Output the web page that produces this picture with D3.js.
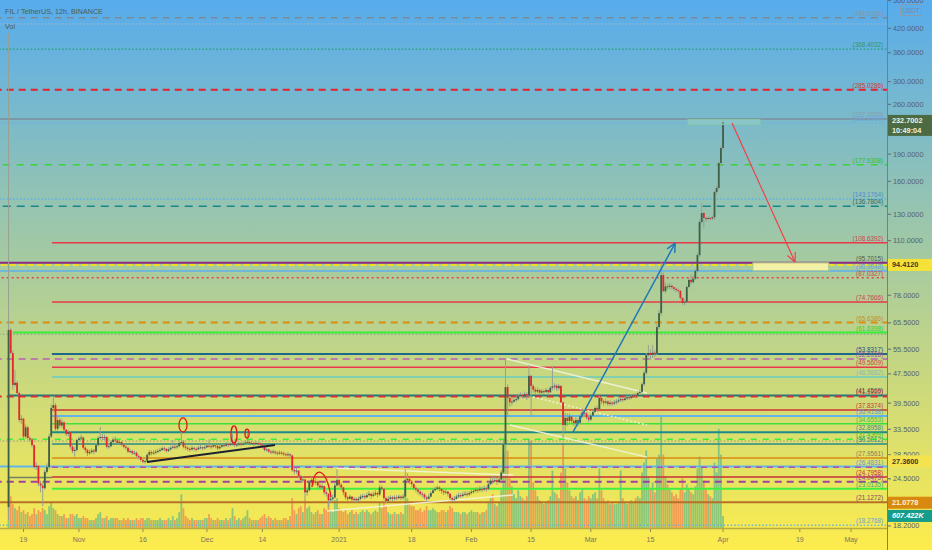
<!DOCTYPE html>
<html><head><meta charset="utf-8">
<script src="https://cdn.jsdelivr.net/npm/d3@7"></script>
<style>
body{margin:0;overflow:hidden;background:#fff}
svg{display:block}
text{font-family:"Liberation Sans",Arial,sans-serif}
</style>
</head><body>
<svg id="c" width="932" height="550"></svg>
<script>
// ---------------- DATA ----------------
const title = "FIL / TetherUS, 12h, BINANCE";
const firstCandle = "2020-10-15T12:00:00Z";
const firstOpen = 20.5;
const closes = [62.7,54.2,44.3,44.9,42.1,35.5,35.8,32.0,33.9,31.7,31.4,30.3,26.4,26.6,23.8,23.5,23.1,25.6,26.4,32.0,
38.3,39.0,33.6,35.5,34.3,35.0,33.4,32.5,32.9,30.0,29.2,29.4,31.3,31.6,31.8,29.8,29.4,28.8,29.0,29.3,
29.1,30.3,31.7,31.9,31.7,31.9,30.0,30.1,30.9,31.4,31.2,30.7,30.9,30.4,30.0,29.8,29.1,29.2,28.8,28.9,
28.3,28.1,27.6,27.3,27.4,28.5,29.0,28.8,28.9,29.1,29.2,29.4,29.7,29.6,29.2,29.5,29.8,30.0,29.9,30.1,
30.7,30.9,30.0,29.8,29.6,29.5,29.8,29.6,29.5,29.8,29.9,29.7,29.9,30.2,30.1,30.0,30.3,30.1,29.7,30.0,
30.3,30.2,30.5,30.3,30.5,30.6,30.3,30.4,30.6,30.4,30.6,30.8,30.9,30.6,30.7,30.5,30.7,30.6,30.4,30.0,
29.4,29.5,29.1,29.0,29.1,28.9,28.8,28.9,28.8,28.6,28.5,28.6,28.4,25.9,25.7,25.8,24.9,24.3,24.4,22.5,
22.8,24.0,24.3,23.9,24.1,23.5,23.2,23.4,22.5,22.3,21.4,21.6,21.8,23.5,24.3,23.6,23.2,22.5,21.8,21.6,
21.9,21.5,21.6,21.4,21.6,21.9,22.0,21.8,22.1,22.3,22.0,22.2,22.4,22.2,23.2,23.0,21.7,21.3,21.6,21.8,
21.6,21.8,21.7,21.9,21.7,21.9,24.3,24.5,24.1,23.7,23.1,22.9,22.6,22.3,22.2,21.8,21.6,21.9,22.4,22.8,
23.0,23.2,23.0,22.7,22.5,22.6,22.3,21.7,21.5,21.6,21.9,22.1,22.0,22.2,22.3,22.2,22.4,22.6,22.7,22.9,
22.8,23.0,22.9,23.1,23.0,23.7,24.2,24.1,24.3,24.0,24.4,25.5,30.5,43.7,40.8,39.7,39.9,40.3,40.5,41.3,
41.6,41.2,41.8,41.5,46.9,44.0,43.0,42.5,42.9,42.2,42.6,42.4,42.9,42.3,43.5,43.9,44.1,43.4,44.0,39.7,
34.4,36.0,35.3,36.3,35.3,34.8,35.5,34.9,36.4,37.2,37.0,36.1,35.6,36.5,37.4,38.3,38.0,40.8,40.0,39.6,
39.9,39.3,39.6,39.4,39.7,39.9,40.2,40.5,40.3,40.7,41.0,40.8,41.2,41.5,41.4,42.1,42.4,44.5,47.8,53.5,
54.2,53.6,54.3,54.0,63.8,69.7,88.6,80.0,82.5,82.2,82.8,82.0,81.2,80.6,80.2,76.7,74.3,74.8,82.2,85.9,
84.7,86.5,90.9,100.5,123.8,131.0,127.0,126.2,127.0,126.5,127.5,149.6,153.4,179.6,197.4,232.7];
const highs = [408,63.5,55,48.7,45.5,42.5,36.6,36,34.5,34.2,32.1,31.6,30.5,27.2,26.7,24.2,23.9,26.0,27.0,32.6,
39.2,41.2,39.5,36.3,36.0,35.8,35.2,33.6,33.4,33.1,30.3,29.9,31.6,32.0,32.4,32.0,30.1,29.6,29.5,29.7,
29.6,30.6,32.1,34.0,32.5,32.4,32.1,30.6,31.3,31.8,32.0,31.5,31.3,31.1,30.6,30.3,30.0,29.6,29.4,29.3,
29.1,28.6,28.3,27.8,27.7,28.8,29.4,29.3,29.4,29.5,29.6,29.8,30.0,30.1,29.8,29.9,30.2,31.3,30.4,30.6,
31.2,33.1,31.3,30.3,30.1,29.9,30.2,30.0,29.9,30.2,30.3,30.1,30.3,30.6,31.5,30.5,30.7,30.6,30.4,30.3,
30.7,30.6,30.9,30.8,30.9,32.5,30.9,30.8,31.0,30.9,31.0,31.3,32.7,31.2,31.1,31.0,31.1,31.0,30.9,30.6,
30.2,29.9,29.7,29.4,29.5,29.3,29.2,29.3,29.2,29.1,28.9,29.0,28.8,28.6,26.2,26.3,25.9,25.1,24.9,24.5,
23.2,24.3,24.8,24.5,24.6,24.2,23.8,23.8,23.5,22.8,22.4,22.0,22.2,23.9,26.0,24.5,23.9,23.3,22.6,22.0,
22.2,22.0,21.9,21.8,21.9,22.2,22.3,22.2,22.5,22.7,22.4,22.6,22.8,22.6,23.6,23.5,23.1,21.9,22.0,22.1,
22.0,22.1,22.1,22.2,22.1,22.3,26.0,25.4,24.8,24.3,23.8,23.4,23.1,22.8,22.6,22.4,22.0,22.3,22.7,23.1,
23.3,23.5,23.4,23.1,22.9,23.0,22.7,22.4,21.9,22.0,22.2,22.5,22.4,22.6,22.7,22.6,22.7,23.0,23.1,23.2,
23.2,23.4,23.3,23.5,23.4,24.1,24.6,25.0,24.8,24.7,24.9,25.9,31.5,52.2,44.5,41.2,40.8,41.0,41.3,41.9,
42.3,42.0,42.5,42.3,50.2,47.3,44.5,43.6,43.6,43.2,43.2,43.1,43.5,43.1,44.0,49.6,44.8,44.5,44.6,44.3,
39.8,37.2,37.0,37.0,36.5,35.8,36.2,35.9,36.9,38.2,37.8,37.3,36.6,37.0,37.9,38.8,38.9,41.4,41.3,40.4,
40.6,40.2,40.2,40.0,40.3,40.5,40.8,41.0,40.9,41.2,41.5,41.4,41.7,42.0,42.0,42.6,43.0,45.0,48.5,54.2,
57.0,55.5,57.0,55.2,64.8,71.0,96.2,90.0,84.5,84.0,84.3,83.5,82.7,82.0,81.5,80.5,77.0,76.0,83.0,86.8,
89.0,88.5,92.0,102.0,126.0,139.6,132.0,128.0,128.5,128.0,129.0,151.0,156.0,182.0,200.0,237.0];
const lows = [18.9,53.8,43,43.8,41.5,35,34.6,31.5,31.6,31.3,30.9,29.9,26.1,25.9,23.4,22.5,20.6,22.9,25.3,26.0,
31.7,37.5,33.0,33.2,33.8,33.7,33.0,32.1,32.0,29.6,28.8,28.2,29.1,30.9,31.2,29.5,28.9,28.3,28.5,28.7,
28.6,28.9,30.1,31.3,31.2,31.3,29.7,29.6,29.9,30.7,30.8,30.4,30.5,30.1,29.7,29.4,28.8,28.8,28.5,28.5,
28.0,27.7,27.3,27.0,27.0,27.2,28.2,28.4,28.5,28.6,28.8,29.0,29.2,29.2,28.9,29.0,29.3,29.6,29.5,29.6,
29.9,30.4,29.7,29.4,29.2,29.1,29.3,29.2,29.1,29.4,29.5,29.3,29.5,29.7,29.8,29.6,29.8,29.7,29.4,29.5,
29.8,29.9,30.0,29.9,30.1,30.2,29.9,30.0,30.1,30.1,30.2,30.3,30.4,30.3,30.3,30.1,30.3,30.2,30.0,29.7,
29.1,29.1,28.8,28.6,28.7,28.5,28.4,28.5,28.4,28.3,28.2,28.2,28.0,25.6,25.2,25.3,24.6,24.0,23.9,21.4,
22.0,22.6,23.8,23.5,23.6,23.1,22.9,22.9,22.2,21.9,20.5,21.1,21.3,21.6,23.3,23.2,22.8,22.1,21.5,21.3,
21.5,21.2,21.2,21.1,21.2,21.4,21.6,21.5,21.7,21.9,21.6,21.8,22.0,21.8,22.0,22.7,21.4,21.0,21.2,21.4,
21.3,21.4,21.4,21.5,21.4,21.5,21.7,23.9,23.7,23.3,22.8,22.5,22.2,22.0,21.8,21.5,21.2,21.5,21.8,22.3,
22.6,22.8,22.6,22.3,22.1,22.2,21.9,21.4,21.2,21.2,21.5,21.7,21.7,21.8,22.0,21.9,22.0,22.2,22.3,22.5,
22.4,22.6,22.5,22.7,22.6,22.8,23.5,23.7,23.9,23.6,23.9,24.2,25.3,30.2,36.2,38.6,38.9,39.5,39.8,40.2,
40.9,40.6,41.0,40.3,41.0,36.2,42.2,41.8,42.1,41.6,41.8,41.7,42.1,41.6,42.1,42.8,43.0,42.6,42.8,39.5,
31.7,33.0,34.2,34.5,34.6,34.2,34.5,34.1,34.6,36.0,36.2,35.6,35.0,35.3,36.3,37.1,37.4,37.8,39.2,38.9,
39.2,38.7,38.9,38.8,39.0,39.2,39.5,39.8,39.8,40.0,40.3,40.3,40.5,40.8,40.9,41.2,41.6,42.0,44.0,47.2,
52.8,52.0,52.5,52.8,53.5,63.0,68.5,79.5,79.0,80.8,81.0,80.6,80.0,79.5,79.0,75.8,73.5,73.2,74.5,81.5,
83.5,84.0,85.8,90.0,99.5,122.0,118.8,124.0,125.0,125.0,125.5,125.5,147.0,152.0,176.0,195.0];
// volume in millions of FIL
const volumes = [2.4,1.6,1.2,1.0,0.9,1.1,0.8,0.9,0.7,0.8,0.6,0.7,1.0,0.7,0.9,0.8,1.0,0.9,0.7,1.1,
1.3,1.0,0.9,0.7,0.6,0.6,0.7,0.5,0.5,0.7,0.7,0.6,0.7,0.5,0.5,0.6,0.5,0.5,0.4,0.4,
0.4,0.5,0.7,0.8,0.5,0.5,0.6,0.4,0.5,0.5,0.5,0.5,0.4,0.4,0.5,0.4,0.5,0.4,0.4,0.4,
0.5,0.4,0.5,0.5,0.4,0.5,0.5,0.4,0.4,0.4,0.4,0.5,0.4,0.4,0.4,0.5,0.4,0.6,0.4,0.5,
0.8,1.7,1.0,0.6,0.5,0.4,0.5,0.4,0.4,0.4,0.4,0.4,0.5,0.5,0.7,0.5,0.4,0.4,0.5,0.4,
0.4,0.4,0.5,0.4,0.5,1.0,0.6,0.4,0.5,0.4,0.5,0.6,0.9,0.5,0.4,0.4,0.4,0.4,0.5,0.6,
0.7,0.5,0.6,0.5,0.4,0.5,0.4,0.4,0.4,0.5,0.5,0.4,0.6,1.5,0.9,0.7,1.0,1.1,0.8,1.4,
1.0,1.1,0.8,0.7,0.8,0.9,0.7,0.7,1.0,0.9,1.3,0.9,0.8,1.4,1.5,1.0,0.9,0.8,0.9,0.7,
0.8,0.9,0.7,0.8,0.7,0.8,0.9,0.8,0.9,0.8,0.7,0.8,0.9,0.8,1.3,1.0,1.3,1.1,0.8,0.7,
0.7,0.8,0.7,0.7,0.8,0.7,2.0,1.5,1.2,1.1,1.1,0.9,0.9,1.0,0.8,0.9,1.1,0.9,0.9,1.0,
0.9,0.8,0.8,0.9,0.9,0.8,0.9,1.1,1.0,0.8,0.8,0.8,0.7,0.8,0.8,0.7,0.8,0.9,0.8,0.8,
0.8,0.7,0.8,0.8,0.9,1.3,1.5,1.7,1.2,1.1,1.3,1.9,3.8,4.7,3.9,2.5,2.1,1.7,1.5,1.9,
1.6,1.5,1.4,1.6,4.5,4.4,2.3,1.9,1.6,1.4,1.3,1.2,1.3,1.4,1.6,2.9,1.8,1.7,1.5,2.8,
4.3,3.0,2.3,1.9,1.6,1.5,1.6,1.4,1.8,2.0,1.5,1.4,1.6,1.5,1.7,1.8,1.5,3.0,1.9,1.5,
1.3,1.4,1.2,1.3,1.2,1.2,1.3,2.9,1.5,1.3,1.2,1.3,1.4,1.3,1.5,1.6,1.5,2.8,3.3,3.9,
2.6,2.0,2.3,1.8,3.5,3.7,5.7,3.7,2.6,2.2,2.0,1.8,1.6,1.7,1.5,2.0,2.5,1.8,2.2,2.0,
1.8,1.7,2.1,3.0,3.6,3.1,2.4,2.0,1.7,1.6,1.5,3.3,2.8,5.0,3.7,0.607422];

const priceTicks = [500,420,360,300,260,190,160,130,110,78,65.5,55.5,47.5,39.5,33.5,28.5,24.5,18.2];
const timeTicks = ["2020-10-19","2020-11-01","2020-11-16","2020-12-01","2020-12-14","2021-01-01","2021-01-18","2021-02-01","2021-02-15","2021-03-01","2021-03-15","2021-04-01","2021-04-19","2021-05-01"];
const timeTickLabels = ["19","Nov","16","Dec","14","2021","18","Feb","15","Mar","15","Apr","19","May"];

// horizontal levels (price, anchor time)
const levelPrices = [448.9026,431.5,368.4032,285.0286,237.0000,231.1000,177.6308,143.1764,136.7804,108.6392,
95.7015,94.4120,90.9048,87.0327,74.7666,65.6386,61.6398,61.0,53.8317,52.2018,
49.5609,46.5882,41.4569,41.1920,37.8374,36.4138,34.6553,32.8958,31.4369,31.1,
30.5012,27.9561,26.4831,26.38,24.7958,24.0475,23.0135,21.1272,18.2768];
const levelStart = ["2020-10-01","2020-10-01","2020-10-01","2020-10-01","2020-10-01","2020-10-01","2020-10-01","2020-10-01","2020-10-01","2020-10-25T16:00Z",
"2020-10-01","2020-10-01","2020-10-01","2020-10-01","2020-10-25T16:00Z","2020-10-01","2020-10-16T12:00Z","2020-10-01","2020-10-25T16:00Z","2020-10-01",
"2020-10-25T16:00Z","2020-10-25T16:00Z","2020-10-15T12:00Z","2020-10-01","2020-10-25T16:00Z","2020-10-25T16:00Z","2020-10-25T16:00Z","2020-10-25T16:00Z","2020-10-01","2020-10-01",
"2020-10-25T16:00Z","2020-10-25T16:00Z","2020-10-01","2020-10-25T16:00Z","2020-10-25T16:00Z","2020-10-01","2020-10-25T16:00Z","2020-10-01","2020-10-01"];
const levelHasLabel = [1,0,1,1,1,1,1,1,1,1, 1,0,1,1,1,1,1,0,1,1, 1,1,1,1,1,1,1,1,1,0, 1,1,1,0,1,1,1,1,1];

// drawings: [time1, price1, time2, price2]
const trendBlack = ["2020-11-16T22:50Z",27.25,"2020-12-16T23:00Z",30.34];
const segGray = ["2020-10-15T12:00Z",24.7,"2020-10-25T16:00Z",24.7];
const whiteLines = [
  ["2021-02-09T08:25Z",52.2,"2021-03-14T04:00Z",42.1],
  ["2021-02-10T01:10Z",34.4,"2021-03-14T04:00Z",28.1],
  ["2020-12-29T03:20Z",20.0,"2021-02-10T18:10Z",22.13],
  ["2020-12-31T11:45Z",26.2,"2021-02-10T18:10Z",25.1]];
const whiteDotted = [["2021-02-15T10:50Z",41.05,"2021-03-14T04:00Z",34.4]];
const blueArrow = ["2021-02-24T19:40Z",32.9,"2021-03-20T18:43Z",108.4];
const redArrow = ["2021-04-03T02:24Z",231.1,"2021-04-17T21:00Z",96.2];
const topBox = ["2021-03-23T18:40Z",236.2,"2021-04-09T16:00Z",229.0];
const yellowBox = ["2021-04-07T23:50Z",95.7,"2021-04-25T19:00Z",91.0];
// ellipses: [time1,time2,priceTop,priceBottom]
const ellipses = [
  ["2020-11-24T10:50Z","2020-11-26T08:00Z",35.97,32.9],
  ["2020-12-06T15:20Z","2020-12-08T01:10Z",34.2,30.7],
  ["2020-12-09T22:20Z","2020-12-10T21:00Z",33.5,31.7]];
const arcPts = [["2020-12-25T15:10Z",23.28],["2020-12-26T02:25Z",26.6],["2020-12-28T21:50Z",26.6],["2020-12-30T02:00Z",21.85]];

const lastPrice = 232.7002, countdown = "10:49:04";
const tagYellow1 = 94.4120, tagYellow2 = 27.3600, tagOrange = 21.0778;
const lastVolume = 607.422;

// ---------------- CHART ----------------
const W = 932, H = 550, PR = 887, PB = 528;
const svg = d3.select("#c");
const defs = svg.append("defs");
const g0 = defs.append("linearGradient").attr("id","bg").attr("x1",0).attr("y1",0).attr("x2",0).attr("y2",1);
g0.append("stop").attr("offset","0%").attr("stop-color","#57aced");
g0.append("stop").attr("offset","100%").attr("stop-color","#fdec4c");
defs.append("clipPath").attr("id","plot").append("rect").attr("width",PR).attr("height",PB);
svg.append("rect").attr("width",W).attr("height",H).attr("fill","url(#bg)");

const x = d3.scaleUtc().domain([new Date("2020-10-19T00:00Z"), new Date("2021-05-01T00:00Z")]).range([23.5, 851]);
const y = d3.scaleLog().domain([17.97, 502]).range([PB, 0]);
const vy = d3.scaleLinear().domain([0, 6]).range([PB, PB - 119]);
const T = s => new Date(s);

const t0 = new Date(firstCandle).getTime();
const candles = closes.map((c, i) => ({
  t: new Date(t0 + i * 12 * 3600e3), o: i ? closes[i-1] : firstOpen, h: highs[i], l: lows[i], c, v: volumes[i]
}));

const plot = svg.append("g").attr("clip-path","url(#plot)");

// volume
plot.append("g").selectAll("rect").data(candles).join("rect")
  .attr("x", d => x(d.t) - 0.9).attr("width", 1.8)
  .attr("y", d => vy(d.v)).attr("height", d => PB - vy(d.v))
  .attr("fill", d => d.c >= d.o ? "rgba(38,166,154,0.5)" : "rgba(239,83,80,0.5)");

// level styles (separate from data)
const levelStyles = [
 {c:"#7d8996",w:1.5,d:"7,5",lc:"#8a96a2"},{c:"#a9bccd",w:1,d:"1.5,2",lc:"#999"},{c:"#26a06c",w:1.2,d:"1.5,2",lc:"#2a9a70"},{c:"#e8202a",w:2,d:"7,5",lc:"#d83838"},{c:"#7c8c9c",w:1.5,d:null,lc:"#8a9aaa"},
 {c:"#6aaee6",w:1.2,d:"2,2",lc:"#6aa8e0"},{c:"#36d636",w:1.5,d:"7,7",lc:"#30c030"},{c:"#5ab0ea",w:1.5,d:"1.5,2",lc:"#4a90d0"},{c:"#16868a",w:1.5,d:"8,6",lc:"#2a6a6a"},{c:"#e8384a",w:1.5,d:null,lc:"#d04050"},
 {c:"#8b2a80",w:2,d:null,lc:"#4e5e4a"},{c:"#f2de20",w:2,d:"6,3",lc:"#999"},{c:"#62b0ea",w:1.5,d:null,lc:"#5aa0e0"},{c:"#e84040",w:1.5,d:"2,3",lc:"#d84040"},{c:"#e8384a",w:1.5,d:null,lc:"#d04050"},
 {c:"#e08a10",w:2,d:"7,5",lc:"#c09030"},{c:"#38f038",w:2,d:null,lc:"#30d030"},{c:"#8a9a8a",w:1,d:"1.5,2",lc:"#999"},{c:"#1a6a88",w:2,d:null,lc:"#2a4a8a"},{c:"#b860b8",w:1.5,d:"7,5",lc:"#a050a0"},
 {c:"#e8384a",w:1.5,d:null,lc:"#d04050"},{c:"#80d0b0",w:2,d:null,lc:"#80c0b0"},{c:"#1a7a80",w:2,d:null,lc:"#2a5a6a"},{c:"#e03038",w:2,d:"7,5",lc:"#d83040"},{c:"#d03030",w:1.5,d:null,lc:"#c04040"},
 {c:"#60b4ea",w:2,d:null,lc:"#5aa0d0"},{c:"#40e040",w:1.5,d:null,lc:"#40c040"},{c:"#1a8a8a",w:2,d:null,lc:"#3a8a8a"},{c:"#38f038",w:1.5,d:"6,6",lc:"#30c030"},{c:"#8a9a8a",w:1,d:"1.5,2",lc:"#999"},
 {c:"#2a8a8a",w:1.5,d:null,lc:"#3a8a8a"},{c:"#d88a10",w:1.5,d:null,lc:"#8a7a5a"},{c:"#60b4ea",w:2,d:null,lc:"#5a9ad0"},{c:"#b050b0",w:1.5,d:"6,5",lc:"#a050a0"},{c:"#c83038",w:1.5,d:null,lc:"#c83038"},
 {c:"#a040a0",w:2,d:"7,5",lc:"#a040a0"},{c:"#40f040",w:2,d:null,lc:"#30b060"},{c:"#b87028",w:2,d:null,lc:"#7a4a6a"},{c:"#70b0e0",w:1.5,d:"1.5,2",lc:"#6aa0d8"}
];
const lv = plot.append("g");
levelPrices.forEach((p, i) => {
  const s = levelStyles[i];
  lv.append("line").attr("x1", x(T(levelStart[i]))).attr("x2", PR).attr("y1", y(p)).attr("y2", y(p))
    .attr("stroke", s.c).attr("stroke-width", s.w).attr("stroke-dasharray", s.d);
});

// drawings behind candles
const seg = (a, col, w, dash) => plot.append("line")
  .attr("x1", x(T(a[0]))).attr("y1", y(a[1])).attr("x2", x(T(a[2]))).attr("y2", y(a[3]))
  .attr("stroke", col).attr("stroke-width", w).attr("stroke-dasharray", dash || null);
seg(segGray, "#70806a", 1.5);
whiteLines.forEach(a => seg(a, "rgba(245,245,225,0.85)", 1.5));
whiteDotted.forEach(a => seg(a, "rgba(245,245,225,0.85)", 1.5, "2,2"));

// candles
const cg = plot.append("g");
cg.selectAll("line").data(candles).join("line")
  .attr("x1", d => x(d.t)).attr("x2", d => x(d.t)).attr("y1", d => y(d.h)).attr("y2", d => y(d.l))
  .attr("stroke", "#98a090").attr("stroke-width", 1);
cg.selectAll("rect").data(candles).join("rect")
  .attr("x", d => x(d.t) - 0.9).attr("width", 1.8)
  .attr("y", d => y(Math.max(d.o, d.c))).attr("height", d => Math.max(1, Math.abs(y(d.o) - y(d.c))))
  .attr("fill", d => d.c >= d.o ? "#3f5f47" : "#e6262a");

// drawings on top
seg(trendBlack, "#1e2030", 2);
ellipses.forEach(e => {
  const x1 = x(T(e[0])), x2 = x(T(e[1])), y1 = y(e[2]), y2 = y(e[3]);
  plot.append("ellipse").attr("cx",(x1+x2)/2).attr("cy",(y1+y2)/2).attr("rx",(x2-x1)/2).attr("ry",(y2-y1)/2)
    .attr("fill","none").attr("stroke","#e01818").attr("stroke-width",1.3);
});
{
  const P = arcPts.map(p => [x(T(p[0])), y(p[1])]);
  plot.append("path").attr("d", `M${P[0]}C${P[1]} ${P[2]} ${P[3]}`).attr("fill","none").attr("stroke","#e01818").attr("stroke-width",1.3);
}
const box = (b, fill, stroke) => plot.append("rect")
  .attr("x", x(T(b[0]))).attr("y", y(b[1])).attr("width", x(T(b[2])) - x(T(b[0]))).attr("height", y(b[3]) - y(b[1]))
  .attr("fill", fill).attr("stroke", stroke).attr("stroke-width", 1);
box(topBox, "rgba(160,215,200,0.45)", "#86c8a8");
box(yellowBox, "rgba(250,244,170,0.9)", "#a8c888");
const arrow = (a, col, w) => {
  const x1 = x(T(a[0])), y1 = y(a[1]), x2 = x(T(a[2])), y2 = y(a[3]);
  const ang = Math.atan2(y2 - y1, x2 - x1), L = 10, sp = 0.45;
  plot.append("line").attr("x1",x1).attr("y1",y1).attr("x2",x2).attr("y2",y2).attr("stroke",col).attr("stroke-width",w);
  [ang + Math.PI - sp, ang + Math.PI + sp].forEach(a2 =>
    plot.append("line").attr("x1",x2).attr("y1",y2).attr("x2",x2 + L*Math.cos(a2)).attr("y2",y2 + L*Math.sin(a2))
      .attr("stroke",col).attr("stroke-width",w));
};
arrow(blueArrow, "#2179b8", 1.5);
arrow(redArrow, "#f04048", 1.2);

// level labels
const lb = svg.append("g").attr("font-size", 6.3).attr("text-anchor","end");
levelPrices.forEach((p, i) => {
  if (!levelHasLabel[i]) return;
  lb.append("text").attr("x", 883).attr("y", y(p) - 2).attr("fill", levelStyles[i].lc).text("(" + p.toFixed(4) + ")");
});

// header
svg.append("text").attr("x",5).attr("y",14).attr("font-size",7.2).attr("fill","#4c5c4e").text(title);
svg.append("text").attr("x",5).attr("y",29).attr("font-size",7.2).attr("fill","#4c5c4e").text("Vol");

// x axis
svg.append("line").attr("x1",0).attr("x2",PR).attr("y1",PB+0.5).attr("y2",PB+0.5).attr("stroke","#b9ab40").attr("stroke-width",1.5);
const xa = svg.append("g");
timeTicks.forEach((t, i) => {
  const xx = x(T(t + "T00:00Z"));
  xa.append("line").attr("x1",xx).attr("x2",xx).attr("y1",PB+1).attr("y2",PB+4).attr("stroke","#8c8a60");
  xa.append("text").attr("x",xx).attr("y",542).attr("text-anchor","middle").attr("font-size",7).attr("fill","#77755c").text(timeTickLabels[i]);
});

// y axis
svg.append("line").attr("x1",PR+0.5).attr("x2",PR+0.5).attr("y1",0).attr("y2",H).attr("stroke","#72808c").attr("stroke-width",1);
const ya = svg.append("g");
priceTicks.forEach(p => {
  const yy = y(p);
  ya.append("line").attr("x1",PR+1).attr("x2",PR+4).attr("y1",yy).attr("y2",yy).attr("stroke","#5e6a74");
  ya.append("text").attr("x",893).attr("y",yy+2.5).attr("font-size",7.3).attr("fill","#56626e").text(p.toFixed(4));
});
svg.append("rect").attr("x",900.5).attr("y",4.5).attr("width",21).attr("height",11).attr("rx",1.5).attr("fill","none").attr("stroke","#8a9cac");
svg.append("text").attr("x",911).attr("y",12.5).attr("text-anchor","middle").attr("font-size",6.5).attr("fill","#7a8c9c").text("USDT");

// tags
const tag = (yy, h, fill, lines, col, italic) => {
  svg.append("rect").attr("x",PR+1).attr("y",yy).attr("width",W-PR-1).attr("height",h).attr("fill",fill);
  lines.forEach((s, k) => svg.append("text").attr("x",892).attr("y",yy + 8.5 + k*10).attr("font-size",7.3)
    .attr("font-weight","bold").attr("font-style", italic ? "italic" : null).attr("fill",col).text(s));
};
tag(y(lastPrice) - 7, 21, "#4c6b43", [lastPrice.toFixed(4), countdown], "#eef2e0");
tag(y(tagYellow1) - 6, 12, "#f6e236", [tagYellow1.toFixed(4)], "#3a3a2a");
tag(y(tagYellow2) - 6, 12, "#f4e24e", [tagYellow2.toFixed(4)], "#3a3a2a");
tag(y(tagOrange) - 6, 12, "#d8890f", [tagOrange.toFixed(4)], "#fff2d0");
tag(vy(lastVolume / 1000) - 6, 12, "#159c8a", [lastVolume.toFixed(3) + "K"], "#ffffff", true);
</script>
</body></html>
